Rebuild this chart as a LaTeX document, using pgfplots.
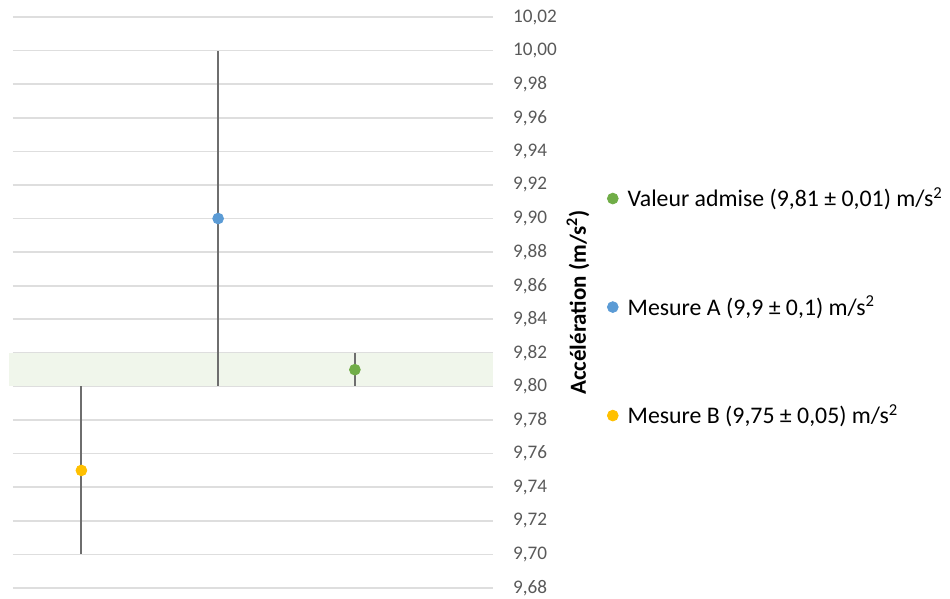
\documentclass[border=0pt]{standalone}
\usepackage{pgfplots}
\pgfplotsset{compat=1.18}
\usepackage{fontspec}
\setmainfont{Carlito}
\definecolor{cgreen}{RGB}{112,173,71}
\definecolor{cblue}{RGB}{91,155,213}
\definecolor{cyellow}{RGB}{255,192,0}
\definecolor{errgray}{RGB}{110,110,110}
\definecolor{gridgray}{RGB}{222,222,222}
\definecolor{bandgreen}{RGB}{240,246,235}
\definecolor{ticktext}{RGB}{89,89,89}
\begin{document}
\begin{tikzpicture}
\begin{axis}[
  name=ax,
  scale only axis,
  width=240pt, height=285.5pt,
  xmin=0.5, xmax=4.01,
  ymin=9.68, ymax=10.02,
  clip=false,
  axis line style={draw=none},
  tick style={draw=none},
  xtick=\empty,
  ytick={9.68,9.70,9.72,9.74,9.76,9.78,9.80,9.82,9.84,9.86,9.88,9.90,9.92,9.94,9.96,9.98,10.00,10.02},
  yticklabel pos=right,
  ymajorgrids,
  grid style={gridgray, line width=0.8pt},
  /pgf/number format/.cd, use comma, fixed, fixed zerofill, precision=2, assume math mode=true,
  /pgfplots/.cd,
  yticklabel style={font=\fontsize{9.6}{11}\selectfont, text=ticktext, anchor=west, xshift=6.5pt},
  ylabel={Accélération (m/s\textsuperscript{2})},
  every axis y label/.style={at={(rel axis cs:1,0.5)}, xshift=42.5pt, rotate=90, anchor=center, font=\fontsize{11.5}{13}\selectfont\bfseries},
  legend style={draw=none, fill=none, at={(rel axis cs:1.2375,0.492)}, anchor=west, font=\fontsize{11.9}{13}\selectfont, row sep=39pt, inner sep=0pt},
  legend cell align=left,
  legend image code/.code={\draw[#1] plot coordinates {(0cm,0cm)}; \path[draw=none,fill=none] (0,0) -- (3.4pt,0);},
]
\addplot[fill=bandgreen, draw=none, forget plot] coordinates {(0.47,9.80) (4.01,9.80) (4.01,9.82) (0.47,9.82)} -- cycle;
\addplot[only marks, mark=*, mark size=2.7pt, color=cgreen, mark options={draw=cgreen, fill=cgreen},
  error bars/.cd, y dir=both, y explicit, error mark=none, error bar style={line width=1pt, color=errgray}]
  coordinates {(3,9.81) +- (0,0.01)};
\addlegendentry{Valeur admise (9,81 ± 0,01) m/s\textsuperscript{2}}
\addplot[only marks, mark=*, mark size=2.7pt, color=cblue, mark options={draw=cblue, fill=cblue},
  error bars/.cd, y dir=both, y explicit, error mark=none, error bar style={line width=1pt, color=errgray}]
  coordinates {(2,9.90) +- (0,0.10)};
\addlegendentry{Mesure A (9,9 ± 0,1) m/s\textsuperscript{2}}
\addplot[only marks, mark=*, mark size=2.7pt, color=cyellow, mark options={draw=cyellow, fill=cyellow},
  error bars/.cd, y dir=both, y explicit, error mark=none, error bar style={line width=1pt, color=errgray}]
  coordinates {(1,9.75) +- (0,0.05)};
\addlegendentry{Mesure B (9,75 ± 0,05) m/s\textsuperscript{2}}
\end{axis}
\pgfresetboundingbox
\path ([shift={(-6.5pt,-5.5pt)}]ax.south west) rectangle ([shift={(468.5pt,294pt)}]ax.south west);
\end{tikzpicture}
\end{document}
